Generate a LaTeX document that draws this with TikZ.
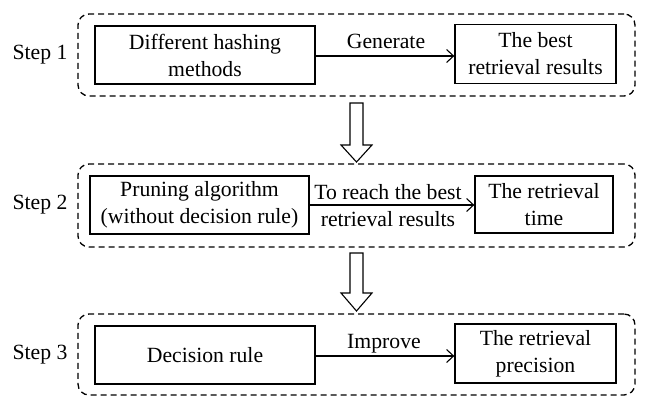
\documentclass[tikz,border=0pt]{standalone}
\usepackage{fontspec}
\setmainfont{Liberation Serif}
\usetikzlibrary{arrows.meta}
\begin{document}
\begin{tikzpicture}[x=1pt,y=-1pt,
  txt/.style={font=\fontsize{21.7}{27}\selectfont, align=center, inner sep=0pt},
  box/.style={txt, draw, line width=1.3pt},
  grp/.style={draw, dash pattern=on 6pt off 4pt, line width=1.3pt, rounded corners=11pt, inner sep=0pt},
  flow/.style={-{Straight Barb[length=7pt,width=13pt,line width=1.1pt]}, line width=1.1pt},
  bigarrow/.style={draw, line width=1.1pt, fill=white}]
\useasboundingbox (0,0) rectangle (649,410);

% groups
\node[grp, minimum width=557pt, minimum height=82pt] (g1) at (356.5,55) {};
\node[grp, minimum width=557pt, minimum height=83pt] (g2) at (356.5,205.5) {};
\node[grp, minimum width=557pt, minimum height=81pt] (g3) at (356.5,354.5) {};

% step labels
\node[txt] (s1) at (40,55) {Step 1};
\node[txt] (s2) at (40,205) {Step 2};
\node[txt] (s3) at (40,355) {Step 3};

% boxes
\node[box, minimum width=220pt, minimum height=58pt] (b1) at (205,55) {Different hashing\\methods};
\node[box, minimum width=161pt, minimum height=59pt] (b2) at (535.5,54) {The best\\retrieval results};
\node[box, minimum width=219pt, minimum height=58pt] (b3) at (199.5,205) {Pruning algorithm\\(without decision rule)};
\node[box, minimum width=138pt, minimum height=57pt] (b4) at (544,204.5) {The retrieval\\time};
\node[box, minimum width=220pt, minimum height=58pt] (b5) at (205,355) {Decision rule};
\node[box, minimum width=161pt, minimum height=59pt] (b6) at (535.5,353.5) {The retrieval\\precision};

% connectors
\draw[flow] (b1.east |- 0,56) -- (b2.west |- 0,56);
\draw[flow] (b3.east |- 0,205) -- (b4.west |- 0,205);
\draw[flow] (b5.east |- 0,356) -- (b6.west |- 0,356);

% connector labels
\node[txt, anchor=base] (l1) at (386,48) {Generate};
\node[txt] (l2) at (388,206) {To reach the best\\retrieval results};
\node[txt, anchor=base] (l3) at (384,348) {Improve};

% block arrows
\draw[bigarrow] (350,103) -- (363,103) -- (363,145) -- (372,145) -- (356.5,162) -- (341,145) -- (350,145) -- cycle;
\draw[bigarrow] (350,253) -- (363,253) -- (363,293) -- (372,293) -- (356.5,311) -- (341,293) -- (350,293) -- cycle;
\end{tikzpicture}
\end{document}
